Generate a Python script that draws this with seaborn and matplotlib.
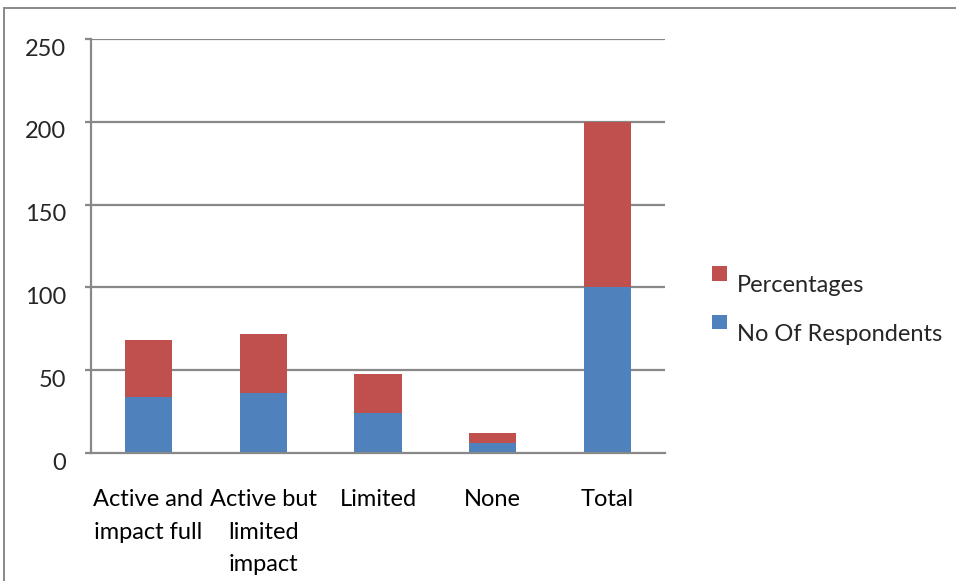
import matplotlib
matplotlib.use("Agg")
import matplotlib.pyplot as plt
from matplotlib.patches import Patch, Rectangle
from matplotlib.legend_handler import HandlerPatch
from matplotlib.transforms import ScaledTranslation
import numpy as np
import pandas as pd
import seaborn as sns

# Survey results: stacked respondents and percentages per category
categories = ["Active and\nimpact full", "Active but\nlimited\nimpact", "Limited", "None", "Total"]
respondents = [34, 36, 24, 6, 100]
percentages = [34, 36, 24, 6, 100]
y_ticks = [0, 50, 100, 150, 200, 250]

RED = "#C0504D"
BLUE = "#4F81BD"
GRID = "#888888"
FS = 17

sns.set_theme(style="white")
plt.rcParams["font.family"] = ["Lato", "DejaVu Sans"]

df = pd.DataFrame({
    "category": categories,
    "respondents": respondents,
    "stack_top": np.array(respondents) + np.array(percentages),
})

fig = plt.figure(figsize=(9.56, 5.81), dpi=100)
ax = fig.add_axes([91 / 956, 1 - 453 / 581, (665 - 91) / 956, (453 - 39) / 581])

# upper segment drawn as the full stack height, lower segment on top of it
sns.barplot(data=df, x="category", y="stack_top", order=categories, color=RED,
            width=0.41, saturation=1, linewidth=0, edgecolor="none", ax=ax, zorder=3)
sns.barplot(data=df, x="category", y="respondents", order=categories, color=BLUE,
            width=0.41, saturation=1, linewidth=0, edgecolor="none", ax=ax, zorder=3)

ax.set_xlim(-0.5, len(categories) - 0.5)
ax.set_ylim(0, 250)
ax.set_xlabel("")
ax.set_ylabel("")

ax.set_yticks(y_ticks)
ax.set_yticklabels([str(v) for v in y_ticks])
for v in y_ticks[1:]:
    ax.axhline(v, color=GRID, lw=1.6, zorder=1)

for side in ["top", "right"]:
    ax.spines[side].set_visible(False)
for side in ["left", "bottom"]:
    ax.spines[side].set_color(GRID)
    ax.spines[side].set_linewidth(1.6)
    ax.spines[side].set_zorder(4)

ax.set_xticks(range(len(categories)))
ax.set_xticklabels(categories, fontsize=FS, linespacing=1.68, va="top")
ax.set_xticks(np.arange(-0.5, len(categories), 1.0), minor=True)
ax.tick_params(axis="x", which="major", length=0, pad=26, colors="black")
ax.tick_params(axis="x", which="minor", length=6, width=1.6, color=GRID, direction="out")
ax.tick_params(axis="y", which="major", length=4, width=1.6, color=GRID, pad=14,
               labelsize=FS, direction="out", left=True)

# value labels sit slightly below their gridlines
shift = ScaledTranslation(0, -8 / 100, fig.dpi_scale_trans)
for lab in ax.get_yticklabels():
    lab.set_transform(lab.get_transform() + shift)


def raised_square(legend, orig_handle, xdescent, ydescent, width, height, fontsize):
    return Rectangle((-xdescent, -ydescent + 0.7 * height), width, width)


handles = [Patch(facecolor=RED, edgecolor="none"), Patch(facecolor=BLUE, edgecolor="none")]
ax.legend(handles, ["Percentages", "No Of Respondents"], frameon=False,
          loc="center left", bbox_to_anchor=(691 / 956, 1 - 310 / 581),
          bbox_transform=fig.transFigure, fontsize=FS,
          handlelength=0.62, handleheight=0.62, handletextpad=0.42, labelspacing=1.15,
          handler_map={Patch: HandlerPatch(patch_func=raised_square)})

# outer chart frame
fig.add_artist(Rectangle((4 / 956, -0.2), 1.2, 1.2 - 8 / 581, transform=fig.transFigure,
                         fill=False, edgecolor=GRID, lw=1.4, clip_on=False))

fig.savefig("out.png", dpi=100)
